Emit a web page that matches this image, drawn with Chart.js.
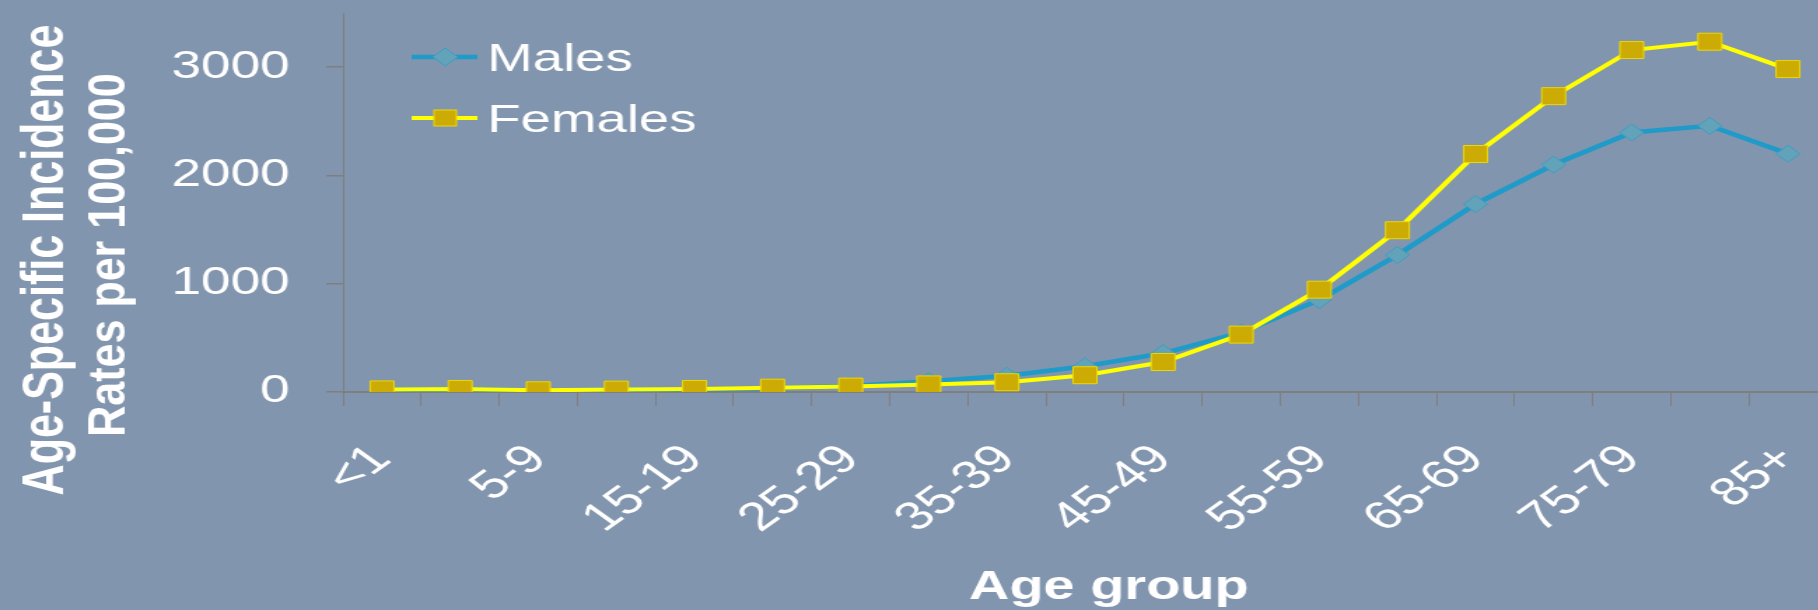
<!DOCTYPE html>
<html>
<head>
    <meta charset="utf-8">
    <title>Age-Specific Incidence Rates</title>
    <script src="https://cdn.jsdelivr.net/npm/chart.js"></script>
    <style>
        html, body { margin: 0; padding: 0; overflow: hidden; background: #8295ae; }
        /* the chart is drawn narrow and stretched sideways, like the wide slide it sits on */
        #wrap { width: 1318px; height: 610px; transform: scale(1.4, 1); transform-origin: 0 0; }
    </style>
</head>
<body>
<div id="wrap"><canvas id="incidenceChart" width="1318" height="610"></canvas></div>

<script>
    var ageGroups = ['<1', '1-4', '5-9', '10-14', '15-19', '20-24', '25-29', '30-34', '35-39', '40-44',
                     '45-49', '50-54', '55-59', '60-64', '65-69', '70-74', '75-79', '80-84', '85+'];
    var malesRate = [24, 26, 15, 20, 26, 35, 55, 100, 150, 238, 358, 550, 850, 1265, 1735, 2100, 2396, 2458, 2200];
    var femalesRate = [24, 28, 16, 22, 28, 40, 50, 70, 90, 155, 277, 530, 945, 1494, 2198, 2732, 3158, 3235, 2982];
    var yTickValues = [0, 1000, 2000, 3000];
    var seriesNames = ['Males', 'Females'];
    var yTitleLines = ['Age-Specific Incidence', 'Rates per 100,000'];
    var xTitle = 'Age group';

    var FONT = '"Liberation Sans", Arial, sans-serif';
    var AXIS_GREY = '#7f7f7f';
    Chart.defaults.font.family = FONT;

    var isLabelledValue = function(v){
        return yTickValues.indexOf(v) !== -1;
    }

    var drawText = function(ctx, text, x, y, font, sx, rotate, align){
        ctx.save();
        ctx.translate(x, y);
        ctx.scale(sx, 1);
        if (rotate) ctx.rotate(-Math.PI / 2);
        ctx.font = font;
        ctx.fillStyle = '#ffffff';
        ctx.textAlign = align;
        ctx.textBaseline = 'alphabetic';
        ctx.fillText(text, 0, 0);
        ctx.restore();
    }

    // axis titles and the line+marker legend in the top left corner
    var chartText = {
        id: 'chartText',
        afterDraw: function(chart){
            var ctx = chart.ctx;

            drawText(ctx, yTitleLines[0], 45, 260, 'bold 43px ' + FONT, 1, true, 'center');
            drawText(ctx, yTitleLines[1], 89, 255, 'bold 43px ' + FONT, 0.86, true, 'center');
            drawText(ctx, xTitle, 792, 599, 'bold 40px ' + FONT, 1, false, 'center');

            // Males: blue line with diamond
            ctx.save();
            ctx.lineWidth = 4.5;
            ctx.strokeStyle = '#1e9bc8';
            ctx.beginPath(); ctx.moveTo(294, 57); ctx.lineTo(341, 57); ctx.stroke();
            ctx.beginPath();
            ctx.moveTo(318 - 9, 57); ctx.lineTo(318, 57 - 9);
            ctx.lineTo(318 + 9, 57); ctx.lineTo(318, 57 + 9);
            ctx.closePath();
            ctx.fillStyle = '#63a3b9'; ctx.fill();
            ctx.lineWidth = 1; ctx.strokeStyle = '#3d9cc1'; ctx.stroke();

            // Females: yellow line with square
            ctx.lineWidth = 4;
            ctx.strokeStyle = '#ffff00';
            ctx.beginPath(); ctx.moveTo(294, 118); ctx.lineTo(341, 118); ctx.stroke();
            ctx.fillStyle = '#ccab05';
            ctx.fillRect(310, 110, 16, 16);
            ctx.lineWidth = 1; ctx.strokeStyle = '#eed800';
            ctx.strokeRect(310, 110, 16, 16);
            ctx.restore();

            drawText(ctx, seriesNames[0], 348, 71, '39px ' + FONT, 1, false, 'left');
            drawText(ctx, seriesNames[1], 348, 132, '39px ' + FONT, 1, false, 'left');
        }
    };

    var ctx = document.getElementById('incidenceChart');
    var lineChart = new Chart(ctx, {
        type: 'line',
        data: {
            labels: ageGroups,
            datasets: [
                {
                    label: seriesNames[0],
                    data: malesRate,
                    order: 1,
                    borderColor: '#1e9bc8',
                    borderWidth: 4.5,
                    tension: 0,
                    pointStyle: 'rectRot',
                    pointRadius: 8.5,
                    pointBackgroundColor: '#63a3b9',
                    pointBorderColor: '#3d9cc1',
                    pointBorderWidth: 1,
                },
                {
                    label: seriesNames[1],
                    data: femalesRate,
                    order: 0,
                    borderColor: '#ffff00',
                    borderWidth: 4,
                    tension: 0,
                    pointStyle: 'rect',
                    pointRadius: 12,
                    pointBackgroundColor: '#ccab05',
                    pointBorderColor: '#eed800',
                    pointBorderWidth: 1,
                },
            ]
        },
        options: {
            responsive: false,
            animation: false,
            devicePixelRatio: 1,
            layout: { padding: { top: 10, right: 0, left: 0, bottom: 0 } },
            plugins: {
                legend: { display: false },
                tooltip: { enabled: false },
            },
            scales: {
                x: {
                    offset: true,
                    grid: {
                        offset: true,
                        drawOnChartArea: false,
                        drawTicks: true,
                        tickLength: 14,
                        color: AXIS_GREY,
                        lineWidth: 1,
                    },
                    border: { display: true, color: AXIS_GREY, width: 2 },
                    ticks: {
                        color: '#ffffff',
                        font: { size: 40 },
                        autoSkip: false,
                        minRotation: 45,
                        maxRotation: 45,
                        padding: 30,
                        // only every other age group gets a label
                        callback: function(value, index){
                            return index % 2 === 0 ? ageGroups[index] : '';
                        }
                    },
                    afterFit: function(scale){
                        scale.height = 218;
                        scale.paddingLeft = 0;
                        scale.paddingRight = 0;
                    }
                },
                y: {
                    min: 0,
                    max: 3500,
                    grid: {
                        drawOnChartArea: false,
                        drawTicks: true,
                        tickLength: 12,
                        lineWidth: 1.5,
                        tickColor: function(c){
                            return c.tick && isLabelledValue(c.tick.value) ? AXIS_GREY : 'rgba(0,0,0,0)';
                        },
                    },
                    border: { display: true, color: AXIS_GREY, width: 1 },
                    ticks: {
                        stepSize: 500,
                        autoSkip: false,
                        color: '#ffffff',
                        font: { size: 38 },
                        padding: 26,
                        callback: function(value){
                            return isLabelledValue(value) ? String(value) : '';
                        }
                    },
                    afterFit: function(scale){
                        scale.width = 245;
                        scale.paddingTop = 0;
                        scale.paddingBottom = 0;
                    }
                }
            }
        },
        plugins: [chartText]
    });
</script>
</body>
</html>
